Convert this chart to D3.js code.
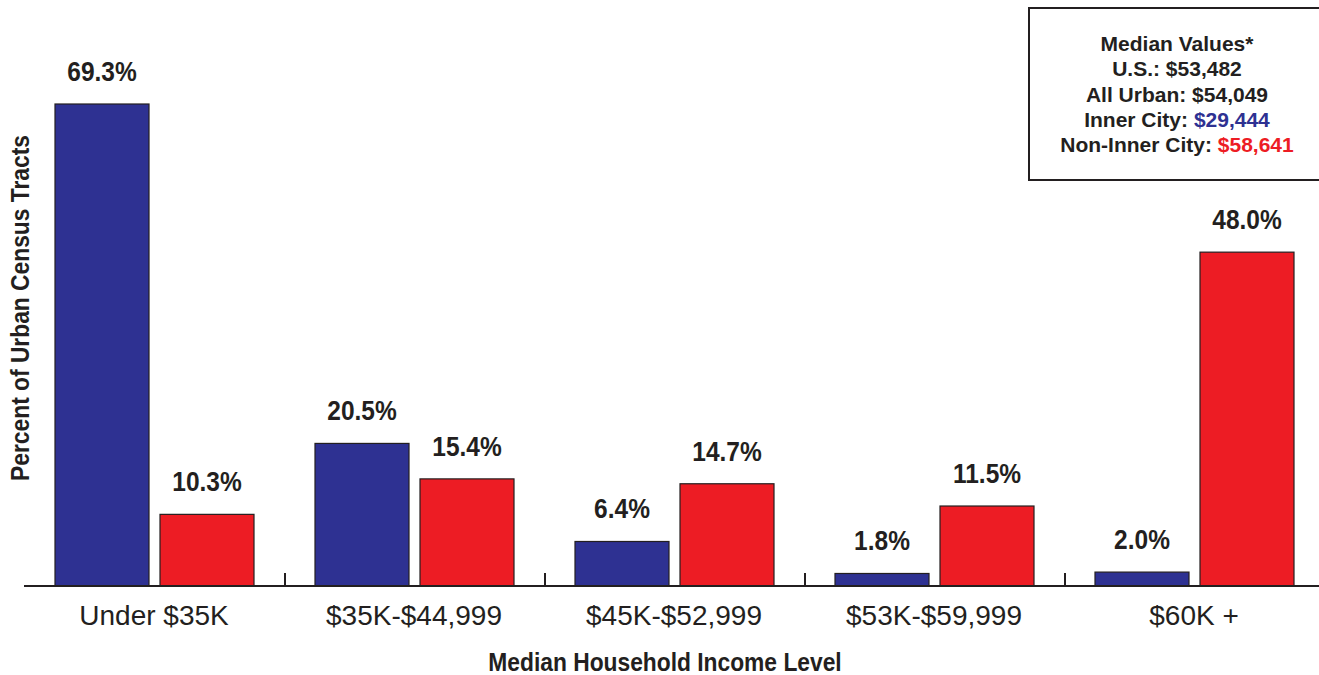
<!DOCTYPE html>
<html>
<head>
<meta charset="utf-8">
<script src="https://cdn.jsdelivr.net/npm/d3@7"></script>
<style>
  body { margin: 0; background: #fff; }
  text { font-family: "Liberation Sans", Arial, sans-serif; fill: #231f20; }
</style>
</head>
<body>
<svg width="1319" height="675"></svg>
<script>
var categories = ["Under $35K", "$35K-$44,999", "$45K-$52,999", "$53K-$59,999", "$60K +"];
var series = ["Inner City", "Non-Inner City"];
var innerCity = [69.3, 20.5, 6.4, 1.8, 2.0];
var nonInnerCity = [10.3, 15.4, 14.7, 11.5, 48.0];
var colors = ["#2e3192", "#ed1c24"];
var legendLines = [
  ["Median Values*", ""],
  ["U.S.: $53,482", ""],
  ["All Urban: $54,049", ""],
  ["Inner City: ", "$29,444"],
  ["Non-Inner City: ", "$58,641"]
];

var svg = d3.select("svg"),
    x0 = 25, x1 = 1325,
    baseY = 586;

var x = d3.scaleBand().domain(categories).range([x0, x1]).paddingInner(0).paddingOuter(0);
var xs = d3.scaleBand().domain(series).range([30, 30 + 94 * 2 + 11]).paddingInner(11 / 105).paddingOuter(0);
var y = d3.scaleLinear().domain([0, 69.3]).range([baseY, 104]);

var data = categories.map(function(c, i) {
  return { cat: c, vals: [innerCity[i], nonInnerCity[i]] };
});

var groups = svg.selectAll("g.grp").data(data).enter().append("g")
  .attr("class", "grp")
  .attr("transform", function(d) { return "translate(" + x(d.cat) + ",0)"; });

groups.selectAll("rect").data(function(d) { return d.vals.map(function(v, j) { return { s: series[j], v: v, j: j }; }); })
  .enter().append("rect")
  .attr("x", function(d) { return xs(d.s); })
  .attr("width", xs.bandwidth())
  .attr("y", function(d) { return y(d.v); })
  .attr("height", function(d) { return baseY - y(d.v); })
  .attr("fill", function(d) { return colors[d.j]; })
  .attr("stroke", "#231f20")
  .attr("stroke-width", 1.2);

groups.selectAll("text.val").data(function(d) { return d.vals.map(function(v, j) { return { s: series[j], v: v }; }); })
  .enter().append("text")
  .attr("class", "val")
  .attr("transform", function(d) {
    return "translate(" + (xs(d.s) + xs.bandwidth() / 2) + "," + (y(d.v) - 23) + ") scale(0.98,1.12)";
  })
  .attr("text-anchor", "middle")
  .style("font-size", "25px")
  .style("font-weight", "bold")
  .text(function(d) { return d.v.toFixed(1) + "%"; });

// x axis
var axis = svg.append("g").attr("transform", "translate(0," + baseY + ")");
axis.append("line").attr("x1", 24).attr("x2", 1319).attr("stroke", "#231f20").attr("stroke-width", 2);
axis.selectAll("line.tick").data(categories.slice(1)).enter().append("line")
  .attr("x1", function(d) { return x(d); }).attr("x2", function(d) { return x(d); })
  .attr("y1", 0).attr("y2", -13)
  .attr("stroke", "#231f20").attr("stroke-width", 2);
axis.selectAll("text").data(categories).enter().append("text")
  .attr("x", function(d) { return x(d) + 30 + 99; })
  .attr("y", 39)
  .attr("text-anchor", "middle")
  .style("font-size", "28px")
  .text(function(d) { return d; });

svg.append("text")
  .attr("transform", "translate(665,671) scale(0.95,1.1)")
  .attr("text-anchor", "middle")
  .style("font-size", "24px").style("font-weight", "bold")
  .text("Median Household Income Level");

svg.append("text")
  .attr("transform", "translate(29,308) rotate(-90) scale(0.95,1.1)")
  .attr("text-anchor", "middle")
  .style("font-size", "24px").style("font-weight", "bold")
  .text("Percent of Urban Census Tracts");

// legend box
var leg = svg.append("g");
leg.append("rect").attr("x", 1029).attr("y", 8).attr("width", 300).attr("height", 172)
  .attr("fill", "#fff").attr("stroke", "#231f20").attr("stroke-width", 2);
var lt = leg.selectAll("text").data(legendLines).enter().append("text")
  .attr("x", 1177).attr("y", function(d, i) { return 51 + i * 25.3; })
  .attr("text-anchor", "middle")
  .style("font-size", "21px").style("font-weight", "bold");
lt.append("tspan").text(function(d) { return d[0]; });
lt.append("tspan").style("fill", function(d, i) { return i === 3 ? colors[0] : colors[1]; })
  .text(function(d) { return d[1]; });
</script>
</body>
</html>
